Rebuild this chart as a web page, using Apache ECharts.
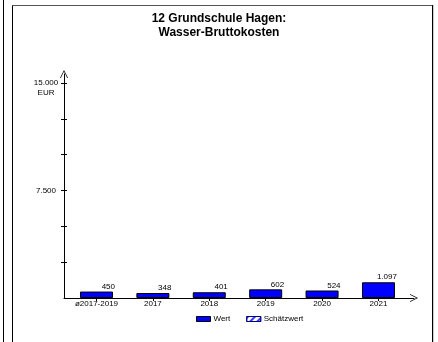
<!DOCTYPE html>
<html>
<head>
<meta charset="utf-8">
<script src="https://cdn.jsdelivr.net/npm/echarts@6/dist/echarts.min.js"></script>
<style>
html,body{margin:0;padding:0;background:#fff;}
#chart{width:438px;height:342px;}
</style>
</head>
<body>
<div id="chart"></div>
<script>
const titleText = '12 Grundschule Hagen:\nWasser-Bruttokosten';
const categories = ['ø2017-2019', '2017', '2018', '2019', '2020', '2021'];
const wert = [450, 348, 401, 602, 524, 1097];
const schaetzwert = [];
const yTickValues = [2500, 5000, 7500, 10000, 12500, 15000];
const yLabelValues = [7500, 15000];
const unit = 'EUR';
const seriesNames = ['Wert', 'Schätzwert'];

function fmt(v) {
  return String(Math.round(v)).replace(/\B(?=(\d{3})+(?!\d))/g, '.');
}

const FONT = '"Liberation Sans", Arial, sans-serif';
const chart = echarts.init(document.getElementById('chart'), null, {renderer: 'canvas'});

const arrowPath = 'path://M0,10 L5,0 L10,10 L9,10 L5,2 L1,10 Z';
const catIdx = categories.map((c, i) => i);
const hatch = {symbol: 'rect', color: '#3a3aff', dashArrayX: [1, 0], dashArrayY: [2, 3], rotation: -Math.PI / 4, symbolSize: 1};

chart.setOption({
  animation: false,
  backgroundColor: '#fff',
  textStyle: {fontFamily: FONT, color: '#000'},
  title: {
    text: titleText,
    left: 'center',
    top: 12,
    padding: [0, 0, 0, 6],
    textStyle: {fontFamily: FONT, fontSize: 12, fontWeight: 'bold', color: '#000', lineHeight: 14}
  },
  legend: {
    left: 196,
    top: 315,
    padding: 0,
    itemWidth: 14,
    itemHeight: 5,
    itemGap: 16,
    textStyle: {fontFamily: FONT, fontSize: 8, color: '#000', padding: [0, 0, 0, -2]},
    data: [
      {name: seriesNames[0], icon: 'rect', itemStyle: {color: '#0000ff', borderColor: '#000', borderWidth: 1}},
      {name: seriesNames[1], icon: 'rect', itemStyle: {color: '#ffffff', borderColor: '#000080', borderWidth: 1, decal: hatch}}
    ]
  },
  grid: {left: 64, right: 24, top: 74, bottom: 44},
  xAxis: {
    type: 'value',
    min: -0.576,
    max: 5.63,
    axisLine: {show: true, onZero: false, lineStyle: {color: '#000', width: 1}, symbol: ['none', arrowPath], symbolSize: [8, 8]},
    axisTick: {show: true, length: 3, customValues: catIdx, lineStyle: {color: '#000'}},
    axisLabel: {
      show: true, customValues: catIdx, margin: 2, fontSize: 8, color: '#000', fontFamily: FONT,
      formatter: v => categories[Math.round(v)]
    },
    splitLine: {show: false}
  },
  yAxis: [
    {
      type: 'value',
      min: 0,
      max: 15628,
      axisLine: {show: true, onZero: false, lineStyle: {color: '#000', width: 1}, symbol: ['none', arrowPath], symbolSize: [8, 8]},
      axisTick: {show: true, length: 3, customValues: yTickValues, lineStyle: {color: '#000'}},
      axisLabel: {
        show: true, customValues: yLabelValues, margin: 18, fontSize: 8, color: '#000', fontFamily: FONT,
        align: 'center', verticalAlign: 'middle', lineHeight: 10,
        formatter: v => v === yLabelValues[yLabelValues.length - 1] ? '\n' + fmt(v) + '\n' + unit : fmt(v)
      },
      splitLine: {show: false}
    },
    {
      type: 'value',
      min: 0,
      max: 15628,
      position: 'left',
      axisLine: {show: false, onZero: false},
      axisTick: {show: true, inside: true, length: 3, customValues: yTickValues, lineStyle: {color: '#000'}},
      axisLabel: {show: false},
      splitLine: {show: false}
    }
  ],
  series: [
    {
      name: seriesNames[0],
      type: 'bar',
      barWidth: 33,
      barGap: '-100%',
      data: wert.map((v, i) => [i, v]),
      itemStyle: {color: '#0000ff', borderColor: '#000', borderWidth: 1},
      label: {
        show: true,
        position: ['100%', 0],
        align: 'right',
        verticalAlign: 'bottom',
        offset: [2, -1],
        fontSize: 8,
        color: '#000',
        fontFamily: FONT,
        formatter: p => fmt(p.value[1])
      }
    },
    {
      name: seriesNames[1],
      type: 'bar',
      barWidth: 33,
      barGap: '-100%',
      data: schaetzwert,
      itemStyle: {color: '#ffffff', borderColor: '#000080', borderWidth: 1, decal: hatch}
    }
  ],
  graphic: [
    {type: 'rect', shape: {x: 3, y: 0, width: 1, height: 342}, style: {fill: '#000'}, silent: true},
    {type: 'rect', shape: {x: 12, y: 5, width: 1, height: 337}, style: {fill: '#000'}, silent: true},
    {type: 'rect', shape: {x: 12, y: 5, width: 421, height: 1}, style: {fill: '#555'}, silent: true},
    {type: 'rect', shape: {x: 432, y: 5, width: 1.2, height: 337}, style: {fill: '#000'}, silent: true}
  ]
});
</script>
</body>
</html>
